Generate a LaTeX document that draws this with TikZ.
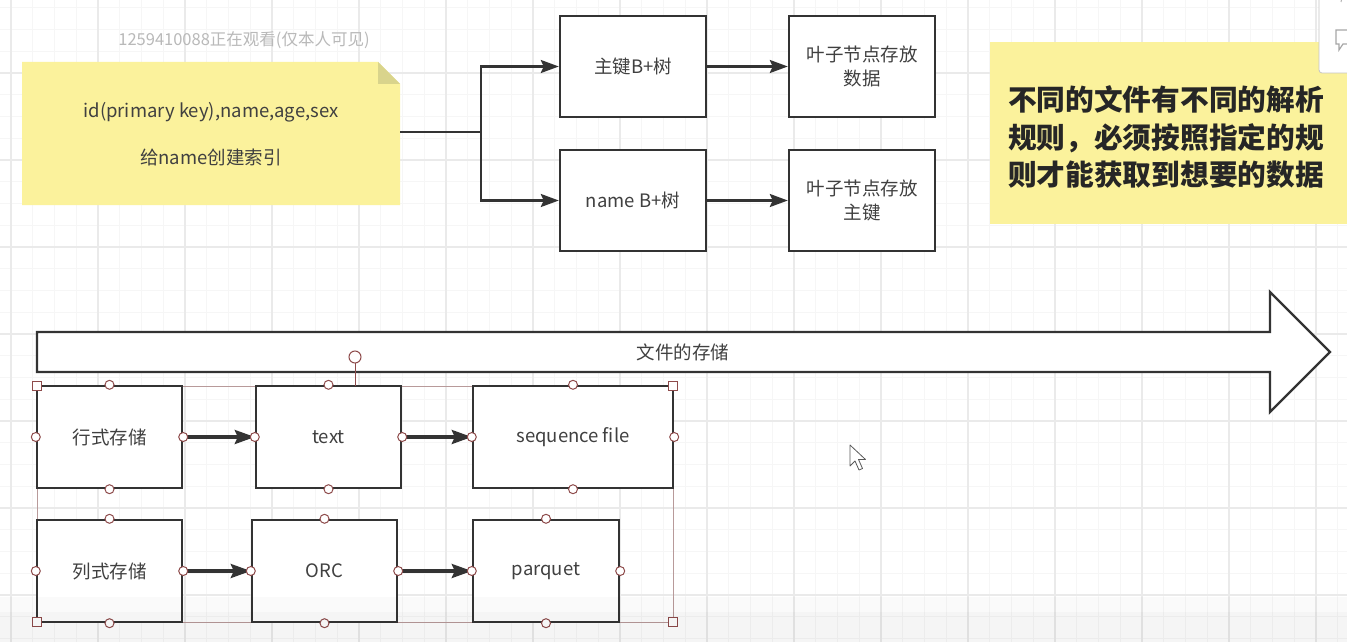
\documentclass[tikz,border=0pt]{standalone}
\usepackage{fontspec}
\setmainfont{Noto Sans CJK SC}
\usetikzlibrary{arrows.meta}
\definecolor{ink}{HTML}{333333}
\definecolor{txt}{HTML}{404040}
\definecolor{notey}{HTML}{FBF29C}
\definecolor{fold}{HTML}{D9D48C}
\definecolor{hdl}{HTML}{8E4B4B}
\definecolor{selln}{HTML}{B89A9A}
\definecolor{gridminor}{HTML}{F6F6F6}
\definecolor{gridmajor}{HTML}{EAEAEA}
\begin{document}
\begin{tikzpicture}[x=1pt,y=-1pt,
  box/.style={draw=ink, line width=2.4pt, fill=white, minimum width=146pt, minimum height=101pt, inner sep=0pt, text=txt, font=\fontsize{18.5}{24}\selectfont, align=center},
  arr/.style={draw=ink, line width=2.4pt, -{Stealth[length=18pt,width=13pt,inset=3pt]}},
  barr/.style={draw=ink, line width=3.2pt, -{Stealth[length=20pt,width=14pt,inset=3pt]}},
  handle/.style={circle, draw=hdl, fill=white, line width=1pt, minimum size=9pt, inner sep=0pt},
  sqhandle/.style={rectangle, draw=hdl, fill=white, line width=1pt, minimum size=9pt, inner sep=0pt},
  lbl/.style={text=txt, font=\fontsize{18.5}{24}\selectfont, align=center, inner sep=0pt}]
\useasboundingbox (0,0) rectangle (1347,642);
\clip (0,0) rectangle (1347,642);
\fill[white] (0,0) rectangle (1347,642);
% grid
\foreach \i in {0,...,63} {
  \draw[gridminor, line width=0.8pt] ({-10.75+21.75*\i},0) -- ++(0,642);
}
\foreach \i in {0,...,30} {
  \draw[gridminor, line width=0.8pt] (0,{7.75+21.75*\i}) -- ++(1347,0);
}
\foreach \i in {0,...,15} {
  \draw[gridmajor, line width=1.2pt] ({11+87*\i},0) -- ++(0,642);
}
\foreach \i in {0,...,7} {
  \draw[gridmajor, line width=1.2pt] (0,{-14+87*\i}) -- ++(1347,0);
}
% watermark
\node[text=gray!55, font=\fontsize{16.5}{18}\selectfont, inner sep=0pt] (wm) at (244,40) {1259410088正在观看(仅本人可见)};
% left note
\fill[notey] (22,62) -- (378,62) -- (400,84) -- (400,205) -- (22,205) -- cycle;
\fill[fold] (378,62) -- (378,84) -- (400,84) -- cycle;
\node[minimum width=378pt, minimum height=143pt, inner sep=0pt] (note) at (211,133.5) {};
\node[lbl] (nt1) at (211,112) {id(primary key),name,age,sex};
\node[lbl] (nt2) at (211,157) {给name创建索引};
% right note
\fill[notey] (990,42) rectangle (1352,224);
\node[text=black!85, font=\bfseries\fontsize{28.7}{37.5}\selectfont, align=left, inner sep=0pt] (rule) at (1166,137) {不同的文件有不同的解析\\规则，必须按照指定的规\\则才能获取到想要的数据};
% UI panel
\draw[gray!45, fill=white, line width=0.8pt, rounded corners=3pt] (1319,-6) rectangle (1354,73);
\draw[gray!60, line width=1pt] (1341,2) arc (180:360:6);
\draw[gray!70, line width=1.2pt] (1336,30) -- (1352,30) -- (1352,44) -- (1343,44) -- (1339,50) -- (1339,44) -- (1336,44) -- cycle;
% top boxes
\node[box] (pk) at (633,66.5) {主键B+树};
\node[box] (nb) at (633,200.5) {name B+树};
\node[box] (leafd) at (862,66.5) {叶子节点存放\\数据};
\node[box] (leafk) at (862,200.5) {叶子节点存放\\主键};
\coordinate (br) at (481,132);
\draw[ink, line width=2.4pt] (note.east |- br) -- (br);
\draw[arr] (br) |- (pk.west);
\draw[arr] (br) |- (nb.west);
\draw[arr] (pk.east) -- (leafd.west);
\draw[arr] (nb.east) -- (leafk.west);
% big arrow
\draw[ink, line width=2.4pt, fill=white, line join=miter] (37,332) -- (1270,332) -- (1270,292) -- (1330,352) -- (1270,412) -- (1270,372) -- (37,372) -- cycle;
\node[lbl] (storage) at (683,352) {文件的存储};
% selection outline
\draw[selln, line width=0.9pt] (37,386) rectangle (673,622);
% bottom boxes
\node[box, minimum width=145pt, minimum height=102pt] (row) at (109.5,437) {行式存储};
\node[box, minimum width=145pt, minimum height=102pt] (text) at (328.5,437) {text};
\node[box, minimum width=200pt, minimum height=102pt] (seq) at (573,437) {sequence file};
\node[box, minimum width=145pt, minimum height=102pt] (col) at (109.5,571) {列式存储};
\node[box, minimum width=145pt, minimum height=102pt] (orc) at (324.5,571) {ORC};
\node[box, minimum width=146pt, minimum height=102pt] (parq) at (546,571) {parquet};
\draw[barr] (row.east) -- (text.west);
\draw[barr] (text.east) -- (seq.west);
\draw[barr] (col.east) -- (orc.west);
\draw[barr] (orc.east) -- (parq.west);
% handles
\foreach \b in {row,text,seq,col,orc,parq} {
  \foreach \a in {north,south,east,west} {
    \node[handle] at (\b.\a) {};
  }
}
\coordinate (rot) at (355,357);
\draw[hdl, line width=1pt] (355,363) -- (355,386);
\node[handle, minimum size=12pt] (roth) at (rot) {};
\node[sqhandle] at (37,386) {};
\node[sqhandle] at (673,386) {};
\node[sqhandle] at (37,622) {};
\node[sqhandle] at (673,622) {};
% cursor
\draw[gray!70!black, fill=white, line width=0.8pt, line join=round] (850,445) -- (850,466) -- (855,461) -- (859,470) -- (862.5,468.5) -- (858.5,459.5) -- (865.5,459.5) -- cycle;
% bottom shade of the screenshot
\fill[black, opacity=0.02] (0,597) rectangle (1347,642);
\fill[black, opacity=0.02] (0,612) rectangle (1347,642);
\end{tikzpicture}
\end{document}
